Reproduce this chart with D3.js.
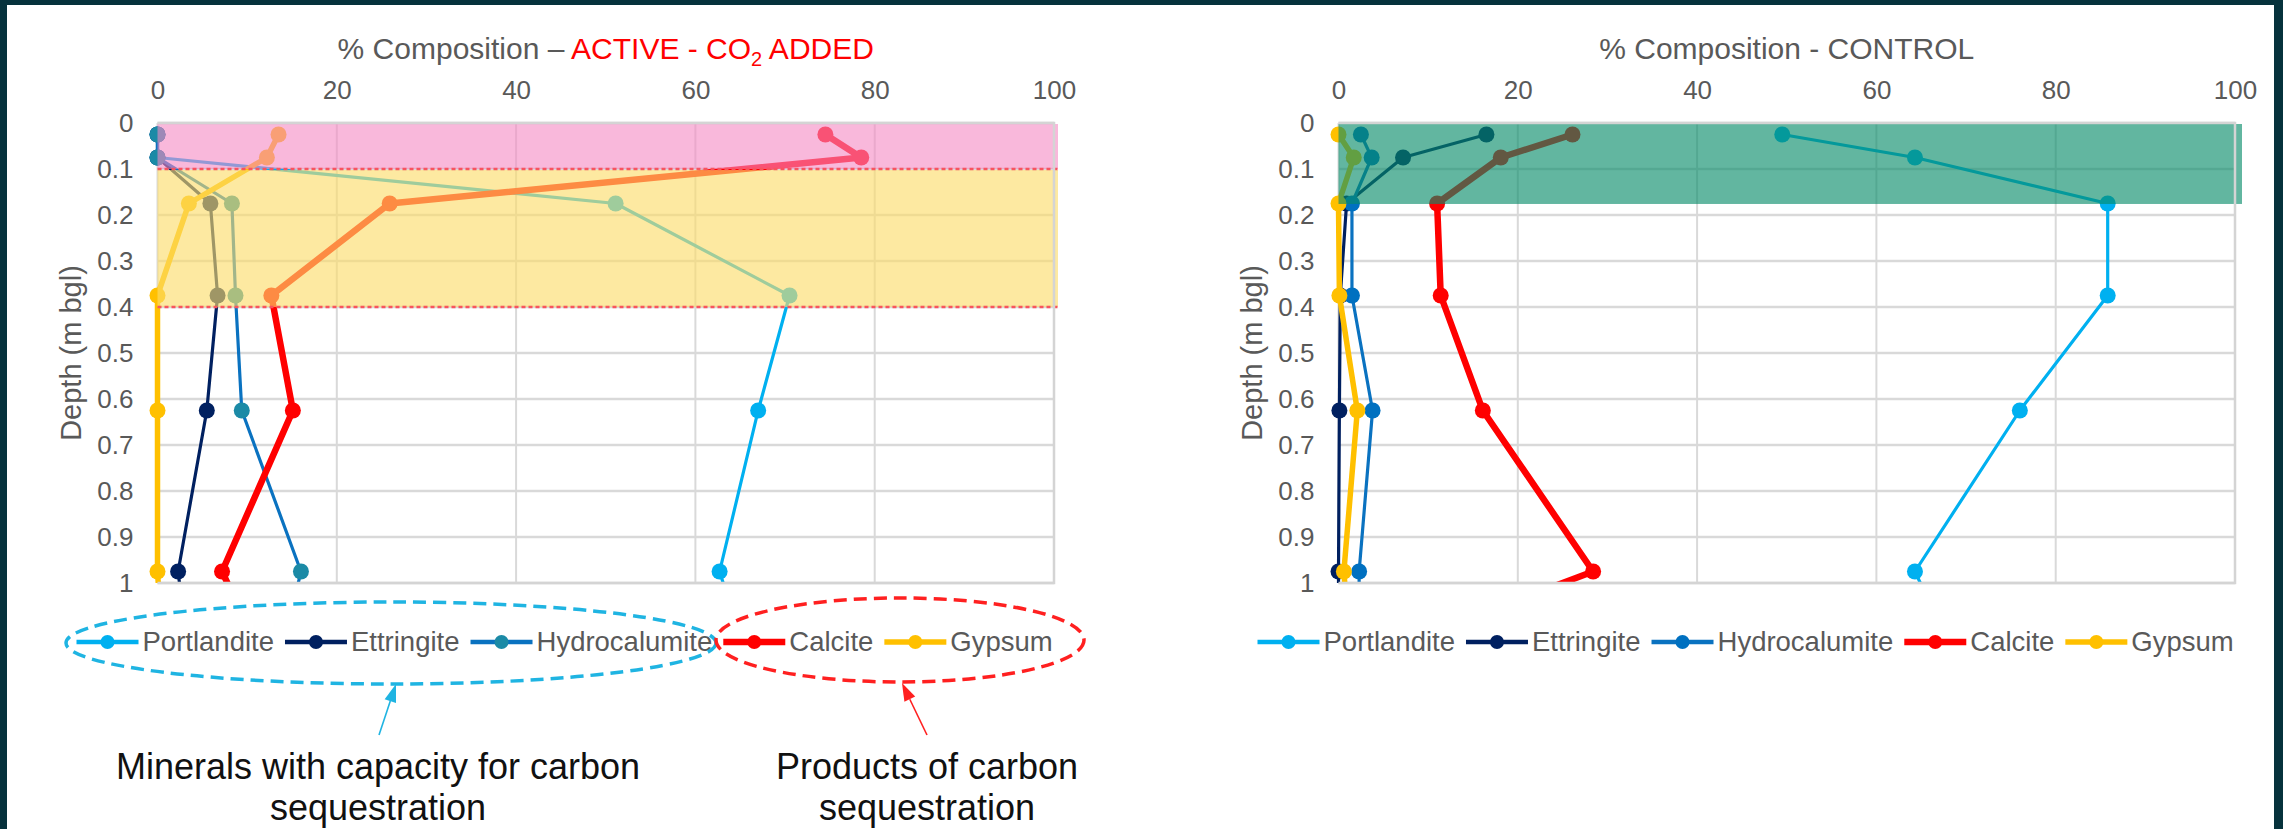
<!DOCTYPE html>
<html>
<head>
<meta charset="utf-8">
<script src="https://cdn.jsdelivr.net/npm/d3@7"></script>
<style>
    html, body { margin: 0; padding: 0; background: #06323c; }
    svg { display: block; }
    text { font-family: "Liberation Sans", Arial, sans-serif; }
</style>
</head>
<body>
<svg id="chart" width="2283" height="829"></svg>
<script>
    'use strict';

    // sample mid-depths (m bgl); the last one sits below the plotted range and gets clipped
    var depths = [0.025, 0.075, 0.175, 0.375, 0.625, 0.975, 1.125];
    var seriesNames = ['Portlandite', 'Ettringite', 'Hydrocalumite', 'Calcite', 'Gypsum'];

    // % composition, ACTIVE (CO2 added)
    var activePortlandite = [0, 0, 51.1, 70.5, 67.0, 62.7, 65.1];
    var activeEttringite = [0, 0, 5.9, 6.7, 5.5, 2.3, 3.2];
    var activeHydrocalumite = [0, 0, 8.3, 8.7, 9.4, 16.0, 14.2];
    var activeCalcite = [74.5, 78.5, 25.9, 12.7, 15.1, 7.2, 10.8];
    var activeGypsum = [13.5, 12.2, 3.5, 0, 0, 0, 0.5];

    // % composition, CONTROL
    var controlPortlandite = [49.5, 64.3, 85.8, 85.8, 76.0, 64.3, 67.9];
    var controlEttringite = [16.5, 7.2, 0.9, 0.2, 0.1, 0, 0];
    var controlHydrocalumite = [2.5, 3.7, 1.5, 1.5, 3.8, 2.3, 2.3];
    var controlCalcite = [26.1, 18.1, 11.0, 11.4, 16.1, 28.4, 8.0];
    var controlGypsum = [0, 1.7, 0, 0.1, 2.1, 0.6, 1.2];

    // shaded depth zones
    var activeZones = [0, 0.1, 0.4];
    var controlZones = [0, 0.176];

    var xTicks = [0, 20, 40, 60, 80, 100];
    var yTicks = [0, 0.1, 0.2, 0.3, 0.4, 0.5, 0.6, 0.7, 0.8, 0.9, 1];

    var lineColors = ['#00b0f0', '#002060', '#0a72c0', '#ff0000', '#ffc000'];
    var lineWidths = [3.2, 3.2, 3.2, 6.5, 5.5];
    var grey = '#595959';

    var svg = d3.select('#chart');
    svg.append('rect')
        .attr('x', 7).attr('y', 5)
        .attr('width', 2267).attr('height', 824)
        .attr('fill', '#ffffff');

    var defs = svg.append('defs');

    function drawPanel(cfg) {
        var x = d3.scaleLinear().domain([0, 100]).range([cfg.left, cfg.left + 896.5]);
        var y = d3.scaleLinear().domain([0, 1]).range([123, 583]);
        var g = svg.append('g');

        // gridlines
        g.selectAll('line.vgrid').data(xTicks).enter().append('line')
            .attr('x1', function (d) { return x(d); })
            .attr('x2', function (d) { return x(d); })
            .attr('y1', y(0)).attr('y2', y(1))
            .attr('stroke', '#d9d9d9').attr('stroke-width', 2);
        g.selectAll('line.hgrid').data(yTicks).enter().append('line')
            .attr('x1', x(0)).attr('x2', x(100))
            .attr('y1', function (d) { return y(d); })
            .attr('y2', function (d) { return y(d); })
            .attr('stroke', '#d9d9d9').attr('stroke-width', 2.5);

        // axes (labels only)
        var gx = g.append('g')
            .attr('transform', 'translate(0,' + y(0) + ')')
            .call(d3.axisTop(x).tickValues(xTicks).tickSize(0).tickPadding(24));
        var gy = g.append('g')
            .attr('transform', 'translate(' + x(0) + ',0)')
            .call(d3.axisLeft(y).tickValues(yTicks).tickSize(0).tickPadding(24)
                .tickFormat(function (d) { return String(+d.toFixed(1)); }));
        [gx, gy].forEach(function (a) {
            a.select('.domain').remove();
            a.selectAll('text').attr('font-size', 26).attr('fill', grey);
        });

        // series, clipped at the bottom of the plot
        var clipId = 'clip-' + cfg.key;
        defs.append('clipPath').attr('id', clipId).append('rect')
            .attr('x', x(0) - 40).attr('y', 0)
            .attr('width', 1000).attr('height', y(1));
        var plot = g.append('g').attr('clip-path', 'url(#' + clipId + ')');

        var line = d3.line()
            .x(function (d) { return x(d.v); })
            .y(function (d) { return y(d.depth); });

        cfg.series.forEach(function (values, i) {
            var pts = values.map(function (v, j) { return { v: v, depth: depths[j] }; });
            plot.append('path')
                .datum(pts)
                .attr('d', line)
                .attr('fill', 'none')
                .attr('stroke', lineColors[i])
                .attr('stroke-width', lineWidths[i])
                .attr('stroke-linejoin', 'round');
            plot.selectAll('circle.s' + i).data(pts).enter().append('circle')
                .attr('cx', function (d) { return x(d.v); })
                .attr('cy', function (d) { return y(d.depth); })
                .attr('r', 8)
                .attr('fill', cfg.markerColors[i]);
        });

        // translucent zone overlays sit on top of the lines
        for (var k = 0; k < cfg.zones.length - 1; k++) {
            g.append('rect')
                .attr('x', x(0))
                .attr('y', y(cfg.zones[k]) + 1)
                .attr('width', x(100) - x(0) + cfg.overhang)
                .attr('height', y(cfg.zones[k + 1]) - y(cfg.zones[k]) - 1)
                .attr('fill', cfg.zoneFills[k])
                .attr('fill-opacity', cfg.zoneOpacity[k]);
        }
        if (cfg.dashed) {
            cfg.zones.slice(1).forEach(function (d) {
                g.append('line')
                    .attr('x1', x(0)).attr('x2', x(100) + 4)
                    .attr('y1', y(d)).attr('y2', y(d))
                    .attr('stroke', '#f8545e').attr('stroke-width', 2.5)
                    .attr('stroke-dasharray', '4 3');
            });
        }

        // plot frame
        g.append('path')
            .attr('d', 'M' + x(0) + ',' + y(0) + 'H' + x(100) + 'V' + y(1) + 'H' + x(0))
            .attr('fill', 'none').attr('stroke', '#d4d4d4').attr('stroke-width', 2.5);

        // title
        var title = g.append('text')
            .attr('x', (x(0) + x(100)) / 2).attr('y', 59)
            .attr('text-anchor', 'middle')
            .attr('font-size', 30)
            .attr('fill', grey);
        cfg.title(title);

        // axis title
        g.append('text')
            .attr('transform', 'translate(' + (x(0) - 87) + ',' + ((y(0) + y(1)) / 2) + ') rotate(-90)')
            .attr('text-anchor', 'middle')
            .attr('dominant-baseline', 'central')
            .attr('font-size', 29)
            .attr('fill', grey)
            .text('Depth (m bgl)');

        // legend
        var lx = x(0) - 81;
        var ly = 642;
        seriesNames.forEach(function (name, i) {
            var item = g.append('g');
            item.append('line')
                .attr('x1', lx).attr('x2', lx + 62)
                .attr('y1', ly).attr('y2', ly)
                .attr('stroke', lineColors[i])
                .attr('stroke-width', Math.max(lineWidths[i], 4.5));
            item.append('circle')
                .attr('cx', lx + 31).attr('cy', ly).attr('r', 7)
                .attr('fill', cfg.markerColors[i]);
            var t = item.append('text')
                .attr('x', lx + 66).attr('y', ly + 9)
                .attr('font-size', 27.5)
                .attr('fill', grey)
                .text(name);
            lx += 66 + t.node().getComputedTextLength() + 11;
        });
    }

    drawPanel({
        key: 'active',
        left: 157.5,
        series: [activePortlandite, activeEttringite, activeHydrocalumite, activeCalcite, activeGypsum],
        markerColors: ['#00b0f0', '#002060', '#1b8aa6', '#ff0000', '#ffc000'],
        zones: activeZones,
        zoneFills: ['rgb(245,137,195)', 'rgb(252,220,106)'],
        zoneOpacity: [0.6, 0.63],
        overhang: 4,
        dashed: true,
        title: function (t) {
            t.append('tspan').text('% Composition \u2013 ');
            t.append('tspan').attr('fill', '#ff0000').text('ACTIVE - CO');
            t.append('tspan').attr('fill', '#ff0000').attr('font-size', 20).attr('dy', 7).text('2');
            t.append('tspan').attr('fill', '#ff0000').attr('dy', -7).text(' ADDED');
        }
    });

    drawPanel({
        key: 'control',
        left: 1338.5,
        series: [controlPortlandite, controlEttringite, controlHydrocalumite, controlCalcite, controlGypsum],
        markerColors: ['#00b0f0', '#002060', '#0070c0', '#ff0000', '#ffc000'],
        zones: controlZones,
        zoneFills: ['rgb(7,139,104)'],
        zoneOpacity: [0.63],
        overhang: 7,
        dashed: false,
        title: function (t) {
            t.text('% Composition - CONTROL');
        }
    });

    // annotations grouping the legend entries
    function annotate(a) {
        svg.append('ellipse')
            .attr('cx', a.cx).attr('cy', a.cy).attr('rx', a.rx).attr('ry', a.ry)
            .attr('fill', 'none')
            .attr('stroke', a.color).attr('stroke-width', 3.5)
            .attr('stroke-dasharray', '13 7');

        var ang = Math.atan2(a.tip[1] - a.tail[1], a.tip[0] - a.tail[0]);
        var len = 18, half = 6;
        var bx = a.tip[0] - len * Math.cos(ang), by = a.tip[1] - len * Math.sin(ang);
        svg.append('line')
            .attr('x1', a.tail[0]).attr('y1', a.tail[1])
            .attr('x2', bx).attr('y2', by)
            .attr('stroke', a.color).attr('stroke-width', 1.6);
        svg.append('path')
            .attr('d', d3.line()([
                a.tip,
                [bx + half * Math.sin(ang), by - half * Math.cos(ang)],
                [bx - half * Math.sin(ang), by + half * Math.cos(ang)]
            ]) + 'Z')
            .attr('fill', a.color);

        var t = svg.append('text')
            .attr('x', a.textX).attr('y', 779)
            .attr('text-anchor', 'middle')
            .attr('font-size', 36)
            .attr('fill', '#111111');
        a.lines.forEach(function (s, i) {
            t.append('tspan').attr('x', a.textX).attr('dy', i ? 41 : 0).text(s);
        });
    }

    annotate({
        cx: 391, cy: 643, rx: 325, ry: 41, color: '#1fb4e2',
        tail: [379, 735], tip: [396, 684],
        textX: 378, lines: ['Minerals with capacity for carbon', 'sequestration']
    });
    annotate({
        cx: 900, cy: 640, rx: 184, ry: 42, color: '#ff2020',
        tail: [927, 735], tip: [902, 683],
        textX: 927, lines: ['Products of carbon', 'sequestration']
    });
</script>
</body>
</html>
